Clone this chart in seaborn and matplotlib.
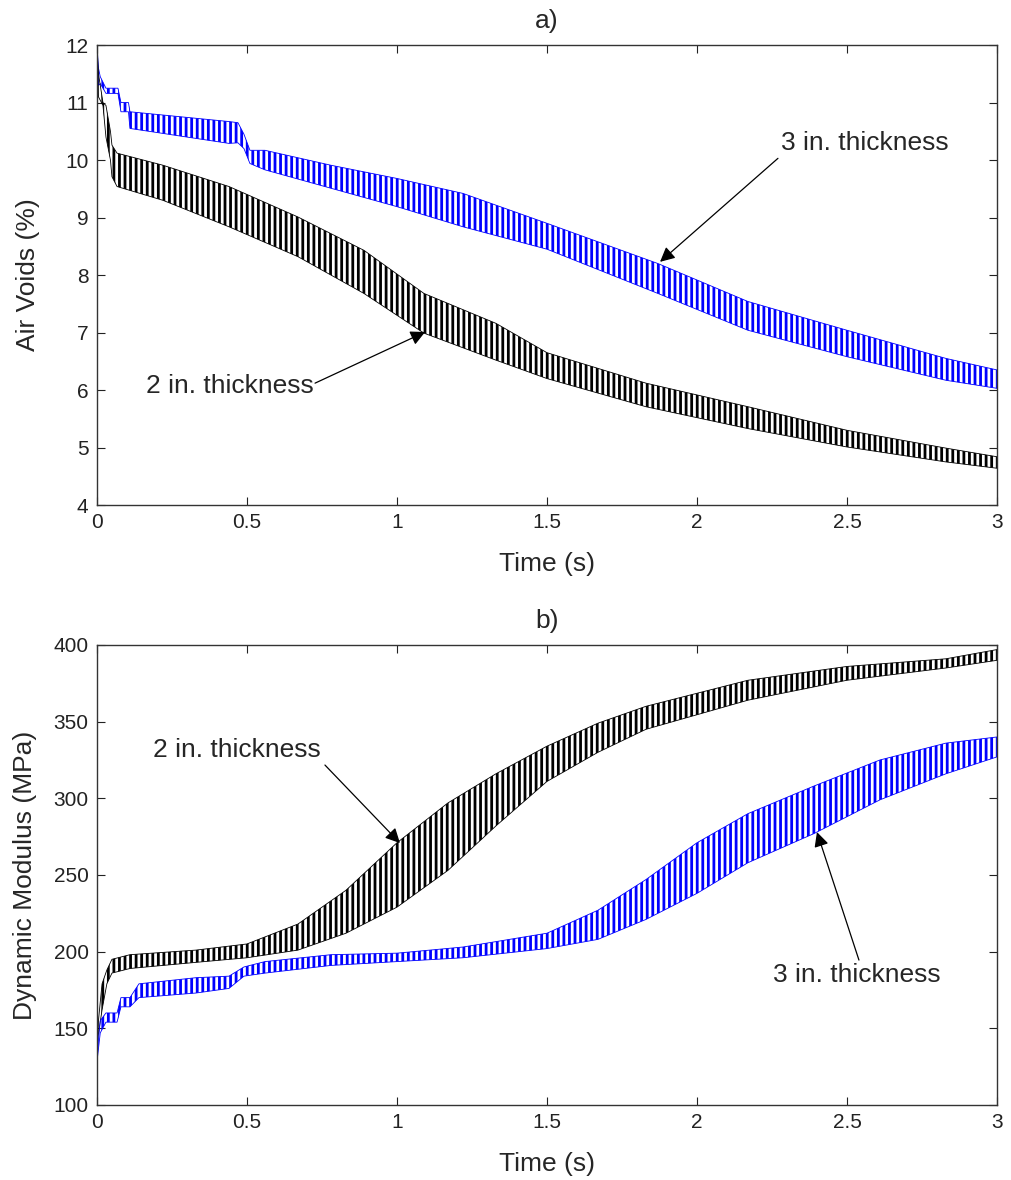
import numpy as np
import pandas as pd
import matplotlib
matplotlib.use("Agg")
import matplotlib.pyplot as plt
import seaborn as sns

sns.set_theme(style="ticks")
plt.rcParams["font.family"] = ["Liberation Sans", "DejaVu Sans"]
plt.rcParams["hatch.linewidth"] = 2.0

# ---------------- data (band envelopes) ----------------
# a) Air voids (%)
av3_t  = [0, 0.005, 0.011, 0.03, 0.07, 0.08, 0.105, 0.11, 0.44, 0.47, 0.49, 0.51, 0.56,
          0.78, 1.0, 1.22, 1.5, 1.87, 2.17, 2.5, 2.83, 3.0]
av3_hi = [12.0, 11.6, 11.45, 11.25, 11.25, 11.0, 11.0, 10.84, 10.67, 10.65, 10.45, 10.17, 10.17,
          9.91, 9.68, 9.42, 8.9, 8.2, 7.54, 7.04, 6.55, 6.35]
av3_lo = [12.0, 11.3, 11.33, 11.16, 11.16, 10.84, 10.84, 10.55, 10.29, 10.3, 10.2, 9.94, 9.83,
          9.51, 9.19, 8.84, 8.45, 7.68, 7.04, 6.58, 6.17, 6.03]

av2_t  = [0, 0.005, 0.02, 0.03, 0.045, 0.05, 0.067, 0.22, 0.44, 0.67, 0.89, 1.09, 1.33,
          1.5, 1.83, 2.17, 2.5, 2.83, 3.0]
av2_hi = [12.0, 11.5, 11.0, 10.95, 10.5, 10.26, 10.12, 9.91, 9.54, 9.01, 8.43, 7.68, 7.16,
          6.65, 6.12, 5.71, 5.3, 4.99, 4.84]
av2_lo = [12.0, 11.1, 10.95, 10.4, 10.0, 9.71, 9.54, 9.3, 8.84, 8.32, 7.68, 6.99, 6.52,
          6.2, 5.71, 5.33, 5.01, 4.75, 4.64]

# b) Dynamic modulus (MPa)
dm2_t  = [0, 0.017, 0.033, 0.05, 0.11, 0.33, 0.5, 0.67, 0.83, 1.0, 1.17, 1.33, 1.5,
          1.67, 1.83, 2.17, 2.5, 2.83, 3.0]
dm2_hi = [145, 179, 188, 195, 198, 201, 205, 218, 240, 271, 297, 316, 334,
          349, 360, 377, 386, 391, 397]
dm2_lo = [140, 162, 179, 186, 189, 193, 196, 201, 212, 229, 253, 282, 311,
          330, 345, 364, 377, 385, 390]

dm3_t  = [0, 0.011, 0.03, 0.067, 0.08, 0.11, 0.14, 0.33, 0.44, 0.49, 0.56, 0.78, 1.0,
          1.22, 1.5, 1.67, 1.83, 2.0, 2.17, 2.39, 2.61, 2.83, 3.0]
dm3_hi = [132, 155, 160, 160, 170, 170, 179, 183, 184, 190, 193.5, 198, 199,
          203, 212, 227, 247, 271, 290, 308, 325, 336, 340]
dm3_lo = [128, 147, 154, 154, 164, 164, 170, 173, 176, 184, 186, 191, 193.5,
          196, 202, 208, 221, 238, 258, 277, 299, 316, 327]

x_ticks = [0, 0.5, 1, 1.5, 2, 2.5, 3]
x_tick_labels = ["0", "0.5", "1", "1.5", "2", "2.5", "3"]
av_ticks = [4, 5, 6, 7, 8, 9, 10, 11, 12]
dm_ticks = [100, 150, 200, 250, 300, 350, 400]

BLUE = "#0000FF"
BLACK = "#000000"

fig = plt.figure(figsize=(10.11, 11.8), dpi=100)
ax1 = fig.add_axes([0.0959, 0.5720, 0.8902, 0.3898])
ax2 = fig.add_axes([0.0959, 0.0636, 0.8902, 0.3898])


def band(ax, t, lo, hi, color):
    ax.fill_between(t, lo, hi, facecolor="none", edgecolor=color,
                    hatch="|||", linewidth=0)
    df = pd.DataFrame({"t": list(t) + list(t),
                       "v": list(lo) + list(hi),
                       "edge": ["lo"] * len(t) + ["hi"] * len(t)})
    sns.lineplot(data=df, x="t", y="v", units="edge", estimator=None,
                 color=color, lw=0.6, ax=ax, legend=False)


band(ax1, av3_t, av3_lo, av3_hi, BLUE)
band(ax1, av2_t, av2_lo, av2_hi, BLACK)
band(ax2, dm2_t, dm2_lo, dm2_hi, BLACK)
band(ax2, dm3_t, dm3_lo, dm3_hi, BLUE)

for ax, yt, ylim, ylab, ttl, lx in [(ax1, av_ticks, (4, 12), "Air Voids (%)", "a)", -0.0633),
                                     (ax2, dm_ticks, (100, 400), "Dynamic Modulus (MPa)", "b)", -0.0667)]:
    ax.set_xlim(0, 3)
    ax.set_ylim(*ylim)
    ax.set_xticks(x_ticks)
    ax.set_xticklabels(x_tick_labels)
    ax.set_yticks(yt)
    ax.set_yticklabels([str(v) for v in yt])
    ax.tick_params(direction="in", top=True, right=True, length=6, width=0.8,
                   labelsize=15, colors="#222222", pad=6)
    for s in ax.spines.values():
        s.set_color("#333333")
        s.set_linewidth(1.0)
        s.set_visible(True)
    ax.set_xlabel("Time (s)", fontsize=19, labelpad=14)
    ax.set_ylabel(ylab, fontsize=19)
    ax.yaxis.set_label_coords(lx, 0.5)
    ax.set_title(ttl, fontsize=19, pad=12)
    ax.grid(False)

arrow = dict(arrowstyle="-|>", color="black", lw=0.9, mutation_scale=22,
             shrinkA=0, shrinkB=0)

ax1.text(2.56, 10.3, "3 in. thickness", fontsize=19, ha="center", va="center")
ax1.annotate("", xy=(1.877, 8.23), xytext=(2.27, 10.03), arrowprops=arrow)
ax1.text(0.443, 6.07, "2 in. thickness", fontsize=19, ha="center", va="center")
ax1.annotate("", xy=(1.094, 7.01), xytext=(0.727, 6.12), arrowprops=arrow)

ax2.text(0.467, 331.5, "2 in. thickness", fontsize=19, ha="center", va="center")
ax2.annotate("", xy=(1.01, 270.8), xytext=(0.76, 321.7), arrowprops=arrow)
ax2.text(2.533, 184.8, "3 in. thickness", fontsize=19, ha="center", va="center")
ax2.annotate("", xy=(2.4, 278), xytext=(2.54, 194.5), arrowprops=arrow)

fig.savefig("out.png", dpi=100, facecolor="white")
